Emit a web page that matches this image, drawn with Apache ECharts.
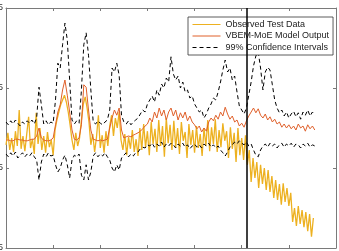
<!DOCTYPE html>
<html lang="en">
<head>
    <meta charset="UTF-8">
    <script src="https://cdn.jsdelivr.net/npm/echarts@6/dist/echarts.min.js"></script>
    <title>VBEM-MoE test output</title>
</head>
<body>
    <style>
        html, body {
            margin: 0;
            background: #fff;
        }
        #main {
            width: 339px;
            height: 251px;
        }
    </style>
    <div id="main"></div>
    <script>
        // sample spacing along x for the two kinds of series
        var obsStep = 4;
        var fitStep = 5;
        var splitAt = 510;

        var legendNames = ['Observed Test Data', 'VBEM-MoE Model Output', '99% Confidence Intervals'];

        var observed = [
            -0.21, -0.06, -0.275, -0.125, -0.30, -0.04, -0.225, 0.225, -0.26, -0.10,
            -0.29, -0.075, 0.14, -0.25, -0.14, -0.325, 0.19, -0.20, 0.00, -0.275,
            -0.10, -0.31, -0.05, -0.24, -0.15, -0.34, -0.025, 0.10, 0.20, 0.29,
            0.35, 0.41, 0.325, 0.20, 0.04, -0.15, -0.275, -0.06, -0.225, -0.125,
            0.10, 0.30, 0.39, 0.25, 0.075, -0.21, -0.075, -0.30, -0.11, 0.16,
            -0.25, -0.09, -0.31, -0.04, -0.225, 0.025, 0.16, -0.10, 0.125, 0.00,
            0.20, -0.15, -0.275, -0.075, -0.34, -0.11, -0.26, -0.025, -0.30, -0.14,
            -0.35, 0.00, -0.275, 0.05, -0.24, -0.04, -0.34, 0.075, -0.20, -0.01,
            -0.30, 0.10, -0.225, 0.025, -0.36, 0.125, -0.19, 0.04, -0.275, 0.09,
            -0.24, 0.00, -0.325, 0.075, -0.16, -0.05, -0.375, 0.05, -0.21, -0.025,
            -0.31, 0.025, -0.25, -0.075, -0.35, 0.00, -0.225, 0.10, -0.29, 0.01,
            -0.20, 0.11, -0.30, -0.025, -0.24, 0.06, -0.16, -0.04, -0.375, 0.01,
            -0.26, -0.06, -0.425, 0.00, -0.34, -0.125, -0.40, -0.09, -0.46, -0.275,
            -0.675, -0.375, -0.625, -0.425, -0.75, -0.46, -0.70, -0.50, -0.775, -0.525,
            -0.80, -0.60, -0.875, -0.65, -0.90, -0.70, -0.96, -0.69, -0.925, -0.75,
            -0.975, -0.81, -1.175, -1.00, -1.225, -0.975, -1.20, -1.025, -1.24, -1.05,
            -1.29, -1.075, -1.36, -1.125
        ];

        var modelOut = [
            -0.15, -0.15, -0.16, -0.16, -0.14, -0.14, -0.15, -0.15, -0.16, -0.16,
            -0.15, -0.14, -0.14, -0.10, 0.00, -0.125, -0.15, -0.16, -0.16, -0.15,
            -0.125, 0.04, 0.20, 0.29, 0.475, 0.60, 0.41, 0.20, -0.025, -0.14,
            -0.15, -0.125, 0.04, 0.54, 0.51, 0.225, -0.025, -0.14, -0.15, -0.16,
            -0.15, -0.16, -0.15, -0.14, 0.00, 0.125, 0.225, 0.16, 0.25, -0.025,
            -0.125, -0.11, -0.10, -0.11, -0.09, -0.075, -0.06, -0.04, -0.01, 0.025,
            0.05, 0.125, 0.075, 0.20, 0.125, 0.25, 0.15, 0.225, 0.10, 0.20,
            0.25, 0.15, 0.225, 0.10, 0.19, 0.125, 0.20, 0.09, 0.15, 0.075,
            0.04, -0.01, 0.025, -0.05, 0.00, -0.04, 0.075, 0.125, 0.09, 0.16,
            0.11, 0.20, 0.15, 0.26, 0.175, 0.11, 0.15, 0.075, 0.10, 0.025,
            0.06, 0.01, 0.09, 0.15, 0.20, 0.25, 0.19, 0.24, 0.16, 0.125,
            0.175, 0.10, 0.14, 0.075, 0.11, 0.05, 0.075, 0.01, 0.05, 0.00,
            0.04, -0.01, 0.025, -0.025, 0.05, 0.00, 0.025, -0.04, 0.04, -0.01,
            0.025, -0.025
        ];

        var ciUpper = [
            0.075, 0.04, 0.09, 0.05, 0.10, 0.06, 0.025, 0.075, 0.05, 0.09,
            0.06, 0.10, 0.05, 0.125, 0.51, 0.29, 0.05, 0.09, 0.04, 0.075,
            0.06, 0.35, 0.81, 0.75, 1.04, 1.31, 1.10, 0.60, 0.10, 0.05,
            0.09, 0.06, 0.475, 1.04, 1.19, 0.91, 0.475, 0.075, 0.05, 0.09,
            0.06, 0.04, 0.075, 0.10, 0.225, 0.75, 0.70, 0.81, 0.66, 0.16,
            0.075, 0.05, 0.09, 0.04, 0.075, 0.10, 0.125, 0.175, 0.225, 0.20,
            0.30, 0.35, 0.40, 0.325, 0.475, 0.41, 0.55, 0.50, 0.625, 0.575,
            0.89, 0.675, 0.60, 0.65, 0.50, 0.575, 0.45, 0.475, 0.375, 0.40,
            0.30, 0.25, 0.20, 0.225, 0.125, 0.175, 0.25, 0.30, 0.375, 0.35,
            0.45, 0.575, 0.725, 0.85, 0.70, 0.75, 0.60, 0.65, 0.45, 0.275,
            0.225, 0.175, 0.25, 0.41, 0.575, 0.775, 0.90, 0.95, 0.75, 0.475,
            0.70, 0.76, 0.725, 0.54, 0.35, 0.25, 0.19, 0.225, 0.15, 0.20,
            0.125, 0.175, 0.21, 0.14, 0.19, 0.11, 0.20, 0.16, 0.225, 0.15,
            0.20, 0.16
        ];

        var ciLower = [
            -0.325, -0.36, -0.31, -0.35, -0.30, -0.375, -0.34, -0.31, -0.36, -0.325,
            -0.35, -0.31, -0.36, -0.40, -0.65, -0.425, -0.325, -0.36, -0.31, -0.35,
            -0.34, -0.46, -0.55, -0.50, -0.40, -0.34, -0.46, -0.625, -0.40, -0.34,
            -0.36, -0.325, -0.59, -0.65, -0.46, -0.65, -0.55, -0.35, -0.31, -0.36,
            -0.325, -0.35, -0.31, -0.36, -0.40, -0.50, -0.55, -0.46, -0.525, -0.375,
            -0.34, -0.31, -0.36, -0.325, -0.35, -0.31, -0.30, -0.26, -0.24, -0.25,
            -0.21, -0.225, -0.19, -0.24, -0.20, -0.225, -0.175, -0.24, -0.20, -0.225,
            -0.19, -0.21, -0.25, -0.20, -0.225, -0.19, -0.24, -0.21, -0.26, -0.225,
            -0.20, -0.24, -0.21, -0.25, -0.20, -0.225, -0.19, -0.24, -0.21, -0.25,
            -0.225, -0.275, -0.31, -0.35, -0.30, -0.24, -0.21, -0.175, -0.20, -0.16,
            -0.19, -0.21, -0.175, -0.225, -0.20, -0.275, -0.34, -0.36, -0.275, -0.225,
            -0.20, -0.24, -0.19, -0.225, -0.20, -0.25, -0.21, -0.19, -0.24, -0.20,
            -0.225, -0.19, -0.24, -0.20, -0.21, -0.25, -0.20, -0.225, -0.19, -0.24,
            -0.21, -0.225
        ];

        function pairs(vals, step) {
            return vals.map(function (v, i) {
                return [i * step, v];
            });
        }

        var frame = '#7a7a7a';
        function axisBox(pos, isX, labels) {
            var ax = {
                type: 'value',
                position: pos,
                min: isX ? 0 : -1.5,
                max: isX ? 700 : 1.5,
                interval: isX ? 100 : 1,
                axisLine: { show: true, onZero: false, lineStyle: { color: frame, width: 1 } },
                axisTick: { show: true, inside: true, length: 3, lineStyle: { color: frame } },
                axisLabel: { show: false },
                splitLine: { show: false }
            };
            if (labels) {
                ax.axisLabel = {
                    show: true, margin: 3, color: '#333',
                    fontSize: 9, fontFamily: 'Liberation Sans'
                };
            }
            return ax;
        }

        var ec = echarts.init(document.getElementById('main'));
        ec.setOption({
            animation: false,
            backgroundColor: '#fff',
            grid: { left: 6, right: 3, top: 8, bottom: 3, containLabel: false, outerBoundsMode: 'none' },
            xAxis: [axisBox('bottom', true, false), axisBox('top', true, false)],
            yAxis: [axisBox('left', false, true), axisBox('right', false, false)],
            legend: {
                data: legendNames,
                orient: 'vertical',
                left: 188,
                top: 17,
                padding: [3, 4, 3, 4],
                itemWidth: 28,
                itemHeight: 8,
                itemGap: 2.5,
                backgroundColor: '#fff',
                borderColor: '#333',
                borderWidth: 0.8,
                borderRadius: 0,
                itemStyle: { color: 'rgba(0,0,0,0)', borderWidth: 0 },
                lineStyle: { width: 1 },
                textStyle: { fontSize: 9, fontFamily: 'Liberation Sans', color: '#222' }
            },
            series: [
                {
                    name: legendNames[0],
                    type: 'line',
                    data: pairs(observed, obsStep),
                    symbol: 'none',
                    lineStyle: { color: '#EDB120', width: 1.3 },
                    itemStyle: { color: '#EDB120' },
                    markLine: {
                        silent: true,
                        symbol: 'none',
                        label: { show: false },
                        lineStyle: { color: '#000', width: 1.5, type: 'solid' },
                        data: [{ xAxis: splitAt }]
                    }
                },
                {
                    name: legendNames[1],
                    type: 'line',
                    data: pairs(modelOut, fitStep),
                    symbol: 'none',
                    lineStyle: { color: '#E0602A', width: 1 },
                    itemStyle: { color: '#E0602A' }
                },
                {
                    name: legendNames[2],
                    type: 'line',
                    data: pairs(ciUpper, fitStep),
                    symbol: 'none',
                    lineStyle: { color: '#000', width: 1, type: [4, 3] },
                    itemStyle: { color: '#000' }
                },
                {
                    name: legendNames[2],
                    type: 'line',
                    data: pairs(ciLower, fitStep),
                    symbol: 'none',
                    lineStyle: { color: '#000', width: 1, type: [4, 3] },
                    itemStyle: { color: '#000' }
                }
            ]
        });
    </script>
</body>
</html>
